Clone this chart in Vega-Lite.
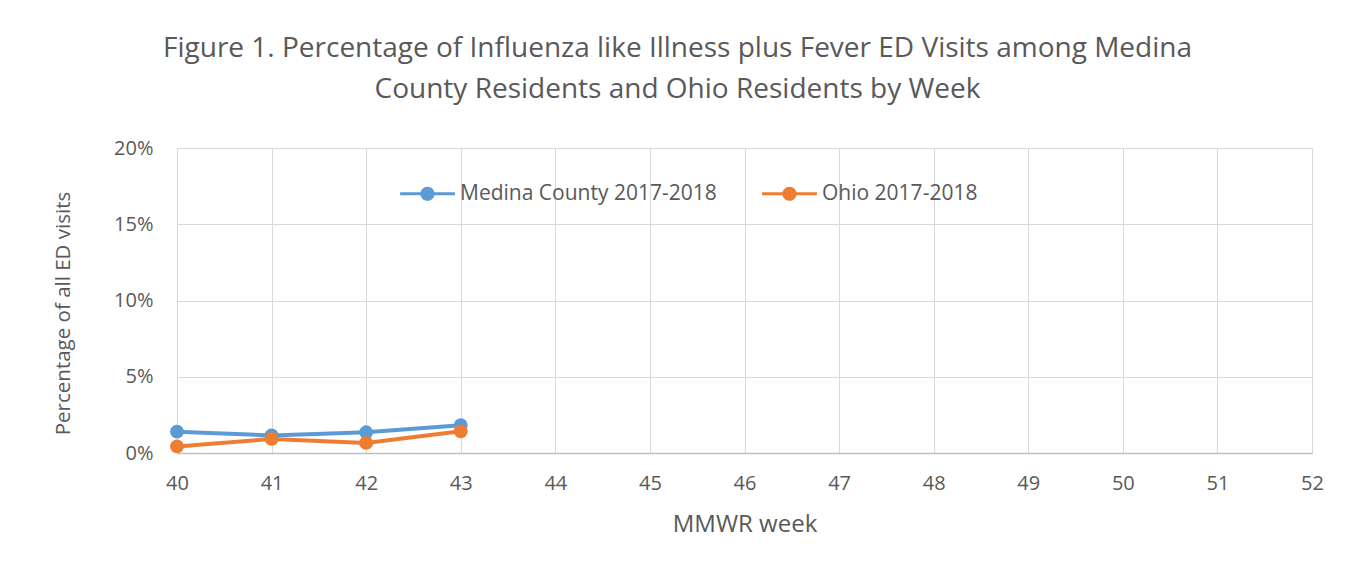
{
  "$schema": "https://vega.github.io/schema/vega-lite/v6.json",
  "width": 1135,
  "height": 305,
  "autosize": {"type": "none"},
  "padding": {"left": 177, "top": 148, "right": 40, "bottom": 109},
  "background": "white",
  "title": {
    "text": ["Figure 1. Percentage of Influenza like Illness plus Fever ED Visits among Medina", "County Residents and Ohio Residents by Week"],
    "font": "Open Sans",
    "fontSize": 28,
    "fontWeight": "normal",
    "color": "#595959",
    "anchor": "middle",
    "dx": -67,
    "offset": 34,
    "lineHeight": 41
  },
  "data": {
    "values": [
      {"week": 40, "series": "Medina County 2017-2018", "pct": 1.40},
      {"week": 41, "series": "Medina County 2017-2018", "pct": 1.15},
      {"week": 42, "series": "Medina County 2017-2018", "pct": 1.36},
      {"week": 43, "series": "Medina County 2017-2018", "pct": 1.82},
      {"week": 40, "series": "Ohio 2017-2018", "pct": 0.43},
      {"week": 41, "series": "Ohio 2017-2018", "pct": 0.92},
      {"week": 42, "series": "Ohio 2017-2018", "pct": 0.66},
      {"week": 43, "series": "Ohio 2017-2018", "pct": 1.42}
    ]
  },
  "mark": {"type": "line", "strokeWidth": 4, "point": {"filled": true, "size": 190, "opacity": 1}},
  "encoding": {
    "x": {
      "field": "week",
      "type": "quantitative",
      "title": "MMWR week",
      "scale": {"domain": [40, 52], "nice": false, "zero": false},
      "axis": {
        "values": [40, 41, 42, 43, 44, 45, 46, 47, 48, 49, 50, 51, 52],
        "format": "d",
        "grid": true,
        "gridColor": "#d9d9d9",
        "domainColor": "#bfbfbf",
        "domainWidth": 1.5,
        "ticks": false,
        "labelFlush": false,
        "labelPadding": 20,
        "labelFont": "Open Sans",
        "labelFontSize": 20,
        "labelColor": "#595959",
        "titleFont": "Open Sans",
        "titleFontSize": 24,
        "titleFontWeight": "normal",
        "titleColor": "#595959",
        "titlePadding": 19
      }
    },
    "y": {
      "field": "pct",
      "type": "quantitative",
      "title": "Percentage of all ED visits",
      "scale": {"domain": [0, 20], "nice": false},
      "axis": {
        "values": [0, 5, 10, 15, 20],
        "labelExpr": "datum.value + '%'",
        "grid": true,
        "gridColor": "#d9d9d9",
        "domain": false,
        "ticks": false,
        "labelPadding": 24,
        "labelFont": "Open Sans",
        "labelFontSize": 20,
        "labelColor": "#595959",
        "titleFont": "Open Sans",
        "titleFontSize": 20.5,
        "titleFontWeight": "normal",
        "titleColor": "#595959",
        "titlePadding": 40,
        "titleY": 165
      }
    },
    "color": {
      "field": "series",
      "type": "nominal",
      "scale": {"domain": ["Medina County 2017-2018", "Ohio 2017-2018"], "range": ["#5B9BD5", "#ED7D31"]},
      "legend": {
        "title": null,
        "orient": "none",
        "legendX": 223,
        "legendY": 18,
        "direction": "horizontal",
        "columns": 2,
        "columnPadding": 45,
        "symbolType": "M-1,-0.055H1V0.055H-1Z M0.26,0 A0.26,0.26 0 1,1 -0.26,0 A0.26,0.26 0 1,1 0.26,0Z",
        "symbolSize": 3000,
        "symbolStrokeWidth": 0,
        "symbolOpacity": 1,
        "labelFont": "Open Sans",
        "labelFontSize": 21,
        "labelColor": "#595959",
        "labelOffset": 5,
        "labelLimit": 400
      }
    }
  },
  "config": {"view": {"stroke": null}}
}
